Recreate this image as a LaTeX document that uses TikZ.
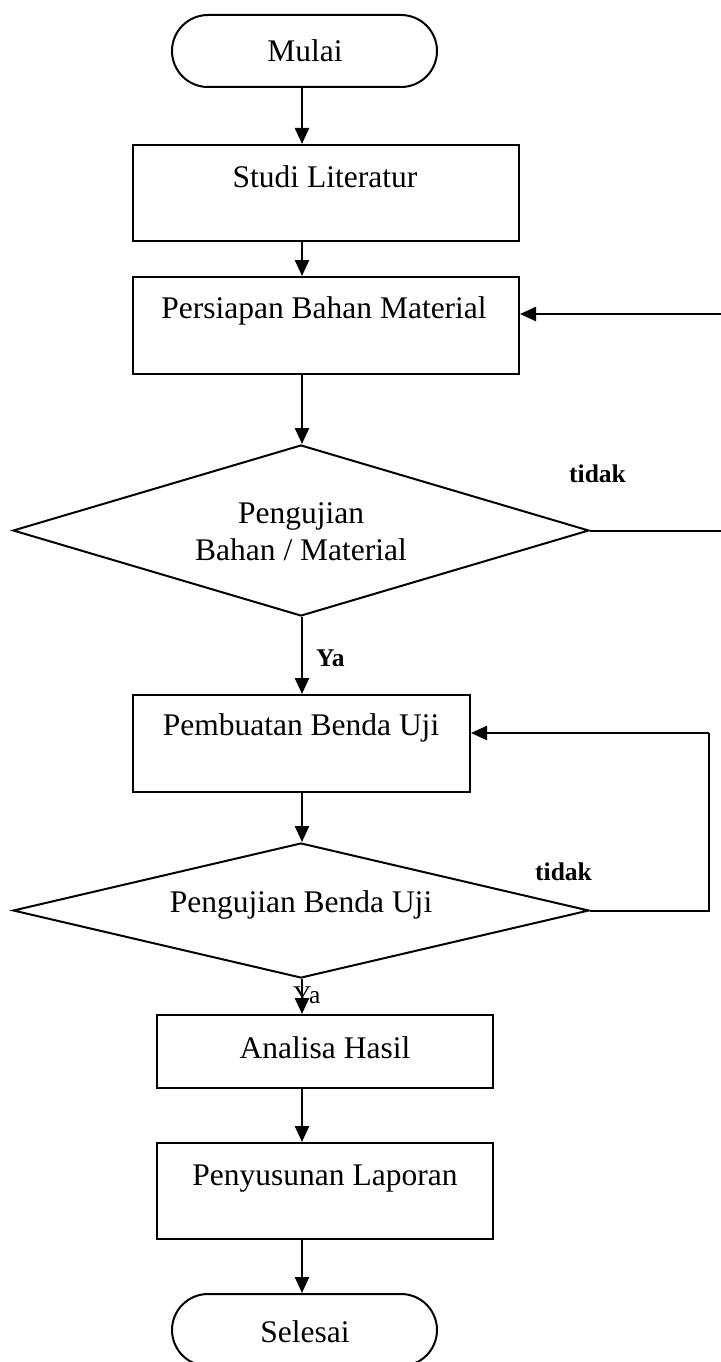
\documentclass[tikz,border=0pt]{standalone}
\usepackage{fontspec}
\setmainfont{Liberation Serif}
\usetikzlibrary{arrows.meta,shapes.geometric}
\begin{document}
\begin{tikzpicture}[x=1pt,y=-1pt,
  procbox/.style={draw,line width=2pt,rectangle,inner sep=0pt},
  termbox/.style={draw,line width=2pt,rectangle,rounded corners=36pt,inner sep=0pt},
  decbox/.style={draw,line width=2pt,diamond,inner sep=0pt},
  txt/.style={anchor=base,inner sep=0pt,font=\fontsize{31.5}{36}\selectfont},
  lbl/.style={anchor=base west,inner sep=0pt,font=\fontsize{25.5}{30}\selectfont},
  flow/.style={line width=2.4pt,-{Triangle[length=16pt,width=14pt]}},
  plain/.style={line width=2pt}
]
\useasboundingbox (0,0) rectangle (720,1362);
\fill[white] (0,0) rectangle (720,1362);

% shapes
\node[termbox,minimum width=265pt,minimum height=72pt] (mulai) at (304.5,51) {};
\node[procbox,minimum width=386pt,minimum height=96pt] (studi) at (326,193) {};
\node[procbox,minimum width=386pt,minimum height=97pt] (persiapan) at (326,325.5) {};
\node[decbox,minimum width=576pt,minimum height=171pt] (uji1) at (301,530.5) {};
\node[procbox,minimum width=337pt,minimum height=97pt] (pembuatan) at (301.5,743.5) {};
\node[decbox,minimum width=576pt,minimum height=135pt] (uji2) at (301,910.5) {};
\node[procbox,minimum width=336pt,minimum height=73pt] (analisa) at (325,1051.5) {};
\node[procbox,minimum width=336pt,minimum height=96pt] (laporan) at (325,1191) {};
\node[termbox,minimum width=265pt,minimum height=72pt] (selesai) at (304.5,1330) {};

% texts
\node[txt] (tmulai) at (305,62) {Mulai};
\node[txt] (tstudi) at (325,187) {Studi Literatur};
\node[txt] (tpersiapan) at (324,318) {Persiapan Bahan Material};
\node[txt] (tuji1a) at (301,523) {Pengujian};
\node[txt] (tuji1b) at (301,560) {Bahan / Material};
\node[txt] (tpembuatan) at (301,735) {Pembuatan Benda Uji};
\node[txt] (tuji2) at (301,912) {Pengujian Benda Uji};
\node[txt] (tanalisa) at (325,1058) {Analisa Hasil};
\node[txt] (tlaporan) at (325,1185) {Penyusunan Laporan};
\node[txt] (tselesai) at (305,1342) {Selesai};

% labels
\node[lbl] (tidak1) at (569,482) {\textbf{tidak}};
\node[lbl] (ya1) at (316,666) {\textbf{Ya}};
\node[lbl] (tidak2) at (535,880) {\textbf{tidak}};
\node[lbl] (ya2) at (293,1003) {Ya};

% connectors
\coordinate (ax) at (302,0);
\draw[flow] (ax |- mulai.south) -- (ax |- studi.north);
\draw[flow] (ax |- studi.south) -- (ax |- persiapan.north);
\draw[flow] (ax |- persiapan.south) -- (ax |- uji1.north);
\draw[flow] (ax |- uji1.south) -- (ax |- pembuatan.north);
\draw[flow] (ax |- pembuatan.south) -- (ax |- uji2.north);
\draw[flow] (ax |- uji2.south) -- (ax |- analisa.north);
\draw[flow] (ax |- analisa.south) -- (ax |- laporan.north);
\draw[flow] (ax |- laporan.south) -- (ax |- selesai.north);

\coordinate (loop1) at (724,314);
\draw[plain] (uji1.east) -| (loop1);
\draw[flow] (loop1) -- (loop1 -| persiapan.east);

\coordinate (loop2) at (709,733);
\draw[plain,line join=miter] (uji2.east) -| (loop2);
\draw[flow] (loop2) -- (loop2 -| pembuatan.east);
\end{tikzpicture}
\end{document}
